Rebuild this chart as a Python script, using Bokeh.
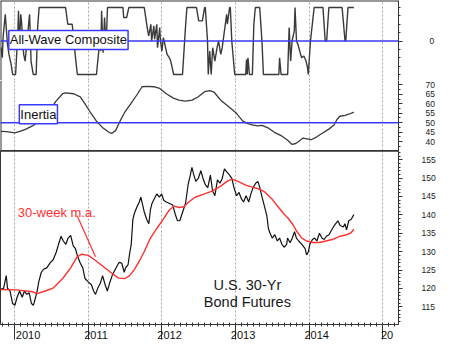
from bokeh.plotting import figure
from bokeh.layouts import column
from bokeh.models import Range1d, Span, Label, FixedTicker, SingleIntervalTicker, Grid
from bokeh.embed import file_html
from bokeh.resources import INLINE

# ---------------- data ----------------
years = [2010, 2011, 2012, 2013, 2014, 2015]
year_labels = ["2010", "2011", "2012", "2013", "2014", "20"]

comp_t = [
    2009.81, 2009.83, 2009.84, 2009.87, 2009.90, 2009.92, 2009.95, 2009.97, 2010.01, 2010.04,
    2010.05, 2010.06, 2010.08, 2010.09, 2010.12, 2010.14, 2010.17, 2010.20, 2010.21, 2010.22,
    2010.25, 2010.29, 2010.31, 2010.33, 2010.69, 2010.72, 2010.78, 2010.82, 2010.85, 2011.11,
    2011.15, 2011.17, 2011.18, 2011.20, 2011.22, 2011.24, 2011.26, 2011.30, 2011.47, 2011.48,
    2011.52, 2011.55, 2011.76, 2011.80, 2011.82, 2011.85, 2011.86, 2011.89, 2011.90, 2011.93,
    2011.94, 2011.97, 2011.98, 2012.00, 2012.02, 2012.04, 2012.07, 2012.10, 2012.12, 2012.16,
    2012.28, 2012.32, 2012.34, 2012.47, 2012.50, 2012.55, 2012.58, 2012.59, 2012.62, 2012.63,
    2012.65, 2012.67, 2012.69, 2012.72, 2012.75, 2012.77, 2012.80, 2012.82, 2012.88, 2012.89,
    2012.92, 2012.93, 2012.95, 2012.99, 2013.14, 2013.15, 2013.16, 2013.17, 2013.19, 2013.23,
    2013.25, 2013.27, 2013.33, 2013.36, 2013.38, 2013.59, 2013.60, 2013.62, 2013.71, 2013.73,
    2013.75, 2013.77, 2013.80, 2013.81, 2013.83, 2013.85, 2013.88, 2013.90, 2013.93, 2013.96,
    2013.98, 2013.99, 2014.02, 2014.05, 2014.07, 2014.19, 2014.22, 2014.24, 2014.27, 2014.45,
    2014.49, 2014.50, 2014.53, 2014.61]
comp_v = [
    -20, -50, 10, 80, -10, -40, -70, -100, -100, 20,
    90, -20, 80, 60, -40, -60, 10, 80, 20, -60,
    -100, -100, 40, 100, 100, 50, 50, -40, -100, -100,
    -10, -30, 90, -35, 70, -20, 100, 100, 100, 70,
    70, 100, 100, 40, 15, 50, 0, 45, 5, 50,
    -20, 40, 0, -30, 10, -10, -40, -50, -60, -100,
    -100, 40, 100, 100, 60, 60, 100, 100, 0, -100,
    -30, -100, -20, -60, -20, 0, -40, -20, 80, 50,
    100, 100, 0, -100, -100, -55, -100, -50, -100, -100,
    50, 100, 100, 0, -100, -100, -50, -100, -100, 40,
    -60, 0, 30, 100, 0, -10, -35, -50, -45, -60,
    -80, -100, 0, 60, 100, 100, 0, 0, 100, 100,
    0, 0, 100, 100]

inert_t = [
    2009.81, 2009.89, 2010.00, 2010.07, 2010.15, 2010.24, 2010.33, 2010.46, 2010.56, 2010.65,
    2010.69, 2010.80, 2010.89, 2010.95, 2011.02, 2011.11, 2011.19, 2011.28, 2011.32, 2011.37,
    2011.43, 2011.50, 2011.58, 2011.67, 2011.73, 2011.80, 2011.89, 2011.97, 2012.06, 2012.15,
    2012.23, 2012.32, 2012.41, 2012.49, 2012.58, 2012.65, 2012.71, 2012.80, 2012.88, 2013.01,
    2013.10, 2013.17, 2013.23, 2013.30, 2013.36, 2013.45, 2013.53, 2013.62, 2013.71, 2013.77,
    2013.82, 2013.88, 2013.92, 2013.97, 2014.03, 2014.10, 2014.18, 2014.27, 2014.34, 2014.38,
    2014.42, 2014.49, 2014.55, 2014.61]
inert_v = [
    45.4, 45.3, 44.6, 45.4, 46.6, 48.3, 50.8, 55.9, 61.4, 65.3,
    65.8, 65.3, 63.6, 60.2, 55.9, 50.8, 47.5, 44.9, 44.4, 45.8,
    50.8, 55.9, 60.2, 65.3, 69.0, 69.2, 69.0, 68.1, 65.3, 63.1,
    61.9, 61.4, 61.9, 63.6, 66.4, 66.9, 66.1, 61.9, 59.3, 55.1,
    50.8, 49.5, 48.8, 48.3, 48.6, 47.1, 44.9, 43.2, 40.7, 38.5,
    39.0, 40.7, 41.9, 41.5, 41.0, 42.4, 44.4, 46.6, 48.8, 51.7,
    53.4, 53.9, 54.6, 55.6]

price_t = [
    2009.805, 2009.848, 2009.883, 2009.900, 2009.935, 2009.970, 2010.000, 2010.031, 2010.065, 2010.100,
    2010.130, 2010.161, 2010.195, 2010.226, 2010.252, 2010.282, 2010.304, 2010.325, 2010.360, 2010.390,
    2010.434, 2010.477, 2010.521, 2010.564, 2010.594, 2010.629, 2010.659, 2010.694, 2010.724, 2010.759,
    2010.794, 2010.824, 2010.855, 2010.889, 2010.924, 2010.954, 2010.998, 2011.041, 2011.071, 2011.097,
    2011.128, 2011.162, 2011.193, 2011.228, 2011.258, 2011.288, 2011.323, 2011.366, 2011.418, 2011.453,
    2011.488, 2011.505, 2011.540, 2011.561, 2011.583, 2011.605, 2011.627, 2011.661, 2011.692, 2011.713,
    2011.744,
    2011.757, 2011.792, 2011.822, 2011.844, 2011.865, 2011.896, 2011.930, 2011.965, 2011.996, 2012.026,
    2012.061, 2012.104, 2012.147, 2012.182, 2012.212, 2012.243, 2012.277, 2012.321, 2012.356, 2012.386,
    2012.408, 2012.429, 2012.460, 2012.494, 2012.529, 2012.559, 2012.590, 2012.624, 2012.659, 2012.689,
    2012.720, 2012.755, 2012.789, 2012.820, 2012.850, 2012.885, 2012.919, 2012.950, 2012.980, 2013.015,
    2013.049, 2013.080, 2013.110, 2013.145, 2013.180, 2013.210, 2013.240, 2013.275, 2013.305, 2013.331,
    2013.362, 2013.396, 2013.427, 2013.448, 2013.470, 2013.500, 2013.535, 2013.570, 2013.600, 2013.631,
    2013.665, 2013.696,
    2013.708, 2013.743, 2013.773, 2013.803, 2013.829, 2013.860, 2013.903, 2013.947, 2013.968, 2013.990,
    2014.012, 2014.046, 2014.077, 2014.107, 2014.142, 2014.176, 2014.207, 2014.237, 2014.272, 2014.307,
    2014.350, 2014.393, 2014.424, 2014.467, 2014.489, 2014.510, 2014.541, 2014.575, 2014.610]
price_v = [
    119.7, 120.1, 123.5, 120.1, 119.3, 115.9, 115.4, 117.6, 119.3, 117.6,
    119.3, 118.4, 118.8, 115.9, 115.4, 117.6, 119.3, 121.8, 124.4, 125.2,
    125.6, 126.9, 127.8, 129.9, 132.0, 134.2, 132.9, 132.0, 133.7, 134.4,
    131.6, 130.8, 128.6, 126.9, 125.6, 122.7, 121.8, 121.0, 119.3, 118.4,
    120.1, 121.4, 123.5, 121.0, 119.3, 121.4, 123.5, 125.2, 127.1, 126.9,
    124.4, 125.6, 126.5, 129.5, 132.0, 138.8, 140.5, 142.2, 143.5, 144.8,
    142.2,
    141.0, 138.8, 137.6, 141.4, 143.1, 144.4, 145.7, 144.8, 145.7, 143.9,
    143.5, 143.1, 142.7, 140.1, 138.4, 138.4, 140.5, 143.1, 148.2, 150.8,
    152.9, 151.2, 149.1, 149.9, 152.0, 149.9, 148.2, 147.4, 150.8, 146.5,
    145.2, 149.5, 148.6, 149.9, 152.5, 151.6, 150.8, 149.9, 147.4, 145.2,
    146.1, 144.4, 143.5, 145.2, 143.5, 145.7, 147.4, 148.6, 149.1, 147.4,
    144.8, 142.2, 139.7, 136.3, 135.0, 133.7, 134.6, 132.9, 133.7, 132.0,
    131.2, 132.0,
    133.7, 132.4, 133.7, 135.4, 133.7, 132.9, 132.0, 130.8, 129.1, 129.9,
    132.0, 133.3, 133.7, 132.9, 135.0, 133.7, 133.3, 134.2, 134.6, 135.9,
    137.3, 138.4, 137.1, 136.7, 137.6, 135.9, 138.4, 138.8, 140.1]

ma_t = [
    2009.805, 2010.022, 2010.239, 2010.304, 2010.412, 2010.521, 2010.651, 2010.759, 2010.846, 2010.911,
    2010.998, 2011.084, 2011.193, 2011.301, 2011.410, 2011.496, 2011.561, 2011.627, 2011.713, 2011.757,
    2011.844, 2011.930, 2012.017, 2012.104, 2012.169, 2012.234, 2012.299, 2012.364, 2012.451, 2012.581,
    2012.689, 2012.798, 2012.885, 2012.950, 2013.036, 2013.145, 2013.253, 2013.340, 2013.405, 2013.492,
    2013.579, 2013.665, 2013.708, 2013.773, 2013.838, 2013.903, 2013.968, 2014.055, 2014.142, 2014.228,
    2014.315, 2014.424, 2014.510, 2014.575, 2014.610]
ma_v = [
    119.7, 119.6, 119.1, 118.6, 119.3, 120.1, 122.7, 125.6, 128.6, 129.3,
    129.0, 127.8, 126.1, 124.4, 122.8, 122.7, 123.5, 125.2, 128.2, 129.9,
    133.7, 136.3, 138.8, 141.4, 142.4, 142.0, 142.2, 143.5, 144.8, 145.7,
    146.5, 147.8, 149.1, 149.7, 149.1, 148.0, 147.4, 146.9, 146.1, 144.4,
    142.2, 140.1, 139.3, 137.6, 135.4, 133.7, 132.9, 132.5, 132.5, 132.9,
    133.3, 134.2, 134.6, 135.2, 136.1]

# pointer of the "30-week m.a." caption (annotation, in data units)
ptr_t = [2010.846, 2011.097]
ptr_v = [139.85, 128.6]

# ---------------- layout ----------------
FONT = "Liberation Sans"
X0, X1 = 2009.805, 2015.217
W, RB = 438, 37
DARK = "#333333"
BLUE = "#3a3aff"
RED = "#ff3030"

xr = Range1d(X0, X1)
month_ticks = [y + m / 12 for y in range(2009, 2016) for m in range(12)
               if X0 <= y + m / 12 <= X1]


def make(h, yr, bottom=False):
    p = figure(width=W, height=h, x_range=xr, y_range=yr,
               x_axis_location="below" if bottom else None,
               y_axis_location="right",
               output_backend="svg", toolbar_location=None,
               min_border_left=0, min_border_right=RB, min_border_top=0,
               min_border_bottom=16 if bottom else 0)
    p.outline_line_color = None
    p.background_fill_color = "white"
    p.border_fill_color = "white"
    for g in p.grid:
        g.visible = False
    p.add_layout(Grid(dimension=0, ticker=FixedTicker(ticks=years),
                      grid_line_color="#a8a8a8", grid_line_dash="2 2",
                      grid_line_width=1))
    ax = p.yaxis[0]
    ax.axis_line_color = DARK
    ax.major_tick_line_color = DARK
    ax.minor_tick_line_color = DARK
    ax.major_tick_out = 4
    ax.major_tick_in = 0
    ax.minor_tick_out = 2
    ax.minor_tick_in = 0
    ax.major_label_text_font = FONT
    ax.major_label_text_font_size = "8.5px"
    ax.major_label_text_color = "#222222"
    return p


# --- top: All-Wave Composite ---
top = make(80, Range1d(-118, 121))
top.yaxis[0].ticker = FixedTicker(ticks=[0], minor_ticks=list(range(-100, 101, 25)))
top.yaxis[0].major_label_standoff = 27
top.line(comp_t, comp_v, line_color="#3a3a3a", line_width=1.4)
top.add_layout(Span(location=0, dimension="width", line_color=BLUE, line_width=1.5))
top.add_layout(Span(location=X0, dimension="height", line_color=DARK, line_width=2))
top.add_layout(Span(location=121, dimension="width", line_color=DARK, line_width=2))
top.add_layout(Label(x=2009.918, y=3, text="All-Wave Composite",
                     text_font=FONT, text_font_size="13px", text_color="#111111",
                     text_baseline="middle", text_align="left",
                     background_fill_color="white", border_line_color=BLUE,
                     border_line_width=1.5, padding=(1, 2)))

# --- middle: Inertia ---
mid = make(70, Range1d(35.3, 72.3))
mid.yaxis[0].ticker = SingleIntervalTicker(interval=5, num_minor_ticks=2)
mid.yaxis[0].major_label_standoff = 23
mid.line(inert_t, inert_v, line_color="#3a3a3a", line_width=1.3)
mid.add_layout(Span(location=50, dimension="width", line_color=BLUE, line_width=1.5))
mid.add_layout(Span(location=X0, dimension="height", line_color=DARK, line_width=2))
mid.add_layout(Label(x=2010.061, y=54.5, text="Inertia",
                     text_font=FONT, text_font_size="13px", text_color="#111111",
                     text_baseline="middle", text_align="left",
                     background_fill_color="white", border_line_color=BLUE,
                     border_line_width=1.5, padding=(1, 2)))

# --- bottom: price ---
pr = make(193, Range1d(110.2, 157.5), bottom=True)
pr.outline_line_color = DARK
pr.outline_line_width = 1
pr.yaxis[0].ticker = SingleIntervalTicker(interval=5, num_minor_ticks=5)
pr.yaxis[0].major_label_standoff = 19
pr.add_layout(Span(location=157.5, dimension="width", line_color=DARK, line_width=2.5))

xa = pr.xaxis[0]
xa.ticker = FixedTicker(ticks=years, minor_ticks=month_ticks)
xa.major_label_overrides = {y: ("\u00a0" * (5 if len(lab) == 4 else 3)) + lab
                            for y, lab in zip(years, year_labels)}
xa.axis_line_color = DARK
xa.major_tick_line_color = DARK
xa.minor_tick_line_color = DARK
xa.major_tick_out = 15
xa.major_tick_in = 0
xa.minor_tick_out = 2
xa.minor_tick_in = 2
xa.major_label_standoff = -11
xa.major_label_text_font = FONT
xa.major_label_text_font_size = "11px"
xa.major_label_text_color = "#111111"

pr.line(price_t, price_v, line_color="#111111", line_width=1.2)
pr.line(ma_t, ma_v, line_color=RED, line_width=1.4)
pr.line(ptr_t, ptr_v, line_color=RED, line_width=1.2)

pr.add_layout(Label(x=2010.04, y=140.75, text="30-week m.a.", text_font=FONT,
                    text_font_size="13px", text_color=RED, text_align="left",
                    text_baseline="alphabetic"))
pr.add_layout(Label(x=2013.162, y=120.95, text="U.S. 30-Yr", text_font=FONT,
                    text_font_size="14.5px", text_color="#1a1a1a", text_align="center",
                    text_baseline="alphabetic"))
pr.add_layout(Label(x=2013.162, y=116.2, text="Bond Futures", text_font=FONT,
                    text_font_size="14.5px", text_color="#1a1a1a", text_align="center",
                    text_baseline="alphabetic"))

layout = column(top, mid, pr)
open("out.html", "w").write(file_html(layout, INLINE))
